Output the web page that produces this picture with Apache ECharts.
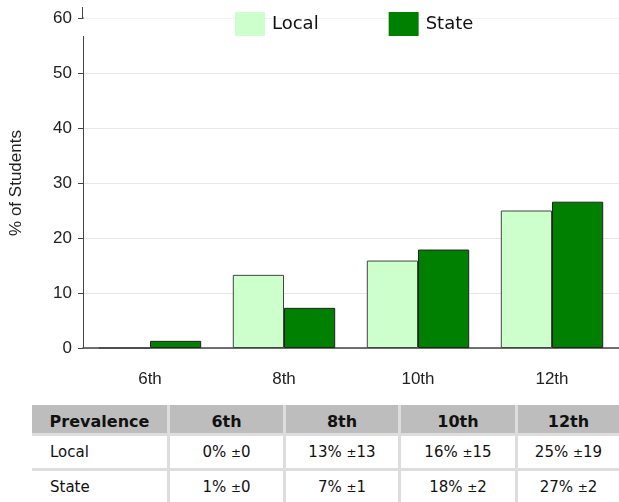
<!DOCTYPE html>
<html>
<head>
<meta charset="utf-8">
<script src="https://cdn.jsdelivr.net/npm/echarts@6/dist/echarts.min.js"></script>
<style>
  html, body { margin: 0; padding: 0; background: #fff; }
  #chart { position: absolute; left: 0; top: 0; width: 619px; height: 395px; }
  #tbl {
    position: absolute; left: 32px; top: 405px; width: 587px;
    display: grid;
    grid-template-columns: 135px 113px 112px 114px 101px;
    grid-template-rows: 28px 32px 32px;
    column-gap: 3px; row-gap: 3px;
    background: #dddddd;
    font-family: "DejaVu Sans", Verdana, sans-serif;
    font-size: 15px; color: #111;
  }
  #tbl div { background: #fff; display: flex; align-items: center; justify-content: center; white-space: pre; }
  #tbl div.h { background: #bdbdbd; font-weight: bold; font-size: 16px; padding-top: 5px; }
  #tbl div.first { justify-content: flex-start; padding-left: 18px; }
  #tbl div.h.first { justify-content: center; padding-left: 0; }
  #tbl .pm { font-size: 12px; }
</style>
</head>
<body>
<div id="chart"></div>
<div id="tbl"></div>
<script>
const categories = ['6th', '8th', '10th', '12th'];
const seriesNames = ['Local', 'State'];
const localValues = [0, 13.3, 15.9, 25.0];
const stateValues = [1.3, 7.3, 17.9, 26.6];
const yMax = 60;
const yInterval = 10;
const tableHeader = ['Prevalence', '6th', '8th', '10th', '12th'];
const localRow = ['0% ±0', '13% ±13', '16% ±15', '25% ±19'];
const stateRow = ['1% ±0', '7% ±1', '18% ±2', '27% ±2'];

const labelFont = '"Liberation Sans", Arial, sans-serif';
const chart = echarts.init(document.getElementById('chart'));
chart.setOption({
  animation: false,
  grid: { left: 82, top: 18, width: 542, bottom: 47 },
  legend: {
    data: seriesNames,
    top: 7, left: 230,
    itemWidth: 30, itemHeight: 24, itemGap: 70,
    icon: 'rect',
    itemStyle: { borderWidth: 0 },
    textStyle: { fontFamily: '"DejaVu Sans", Verdana, sans-serif', fontSize: 18, color: '#111', padding: [0, 0, 0, 2] }
  },
  xAxis: {
    type: 'category',
    data: categories,
    axisLine: { lineStyle: { color: '#444', width: 1.5 } },
    axisTick: { show: false },
    axisLabel: { margin: 23, fontFamily: labelFont, fontSize: 17, color: '#222' }
  },
  yAxis: {
    type: 'value',
    min: 0, max: yMax, interval: yInterval,
    name: '% of Students',
    nameLocation: 'middle',
    nameGap: 58,
    nameTextStyle: { fontFamily: labelFont, fontSize: 17, color: '#222' },
    axisLine: { show: true, lineStyle: { color: '#444', width: 1 } },
    axisTick: { show: true, length: 5, lineStyle: { color: '#444' } },
    axisLabel: { margin: 11, fontFamily: labelFont, fontSize: 17, color: '#222' },
    splitLine: { lineStyle: { color: '#e6e6e6', width: 1 } }
  },
  series: [
    {
      name: seriesNames[0], type: 'bar', data: localValues,
      barGap: 0, barCategoryGap: '23.6%',
      itemStyle: { color: '#ccffcc', borderColor: '#444', borderWidth: 1 }
    },
    {
      name: seriesNames[1], type: 'bar', data: stateValues,
      barGap: 0, barCategoryGap: '23.6%',
      itemStyle: { color: '#008000', borderColor: '#222', borderWidth: 1 }
    }
  ],
  graphic: [
    { type: 'rect', z: 1, shape: { x: 81.8, y: 18.5, width: 538, height: 17.5 }, style: { fill: '#fff' } },
    { type: 'line', z: 1, shape: { x1: 82.5, y1: 7, x2: 82.5, y2: 19 }, style: { stroke: '#444', lineWidth: 1 } }
  ]
});

function cellHtml(s) {
  return '<span>' + s.replace(/±(\d+)/, '<span class="pm">±</span>$1') + '</span>';
}
const tbl = document.getElementById('tbl');
let html = '';
tableHeader.forEach((h, i) => { html += '<div class="h' + (i === 0 ? ' first' : '') + '">' + h + '</div>'; });
html += '<div class="first">' + seriesNames[0] + '</div>';
localRow.forEach(v => { html += '<div>' + cellHtml(v) + '</div>'; });
html += '<div class="first">' + seriesNames[1] + '</div>';
stateRow.forEach(v => { html += '<div>' + cellHtml(v) + '</div>'; });
tbl.innerHTML = html;
</script>
</body>
</html>
